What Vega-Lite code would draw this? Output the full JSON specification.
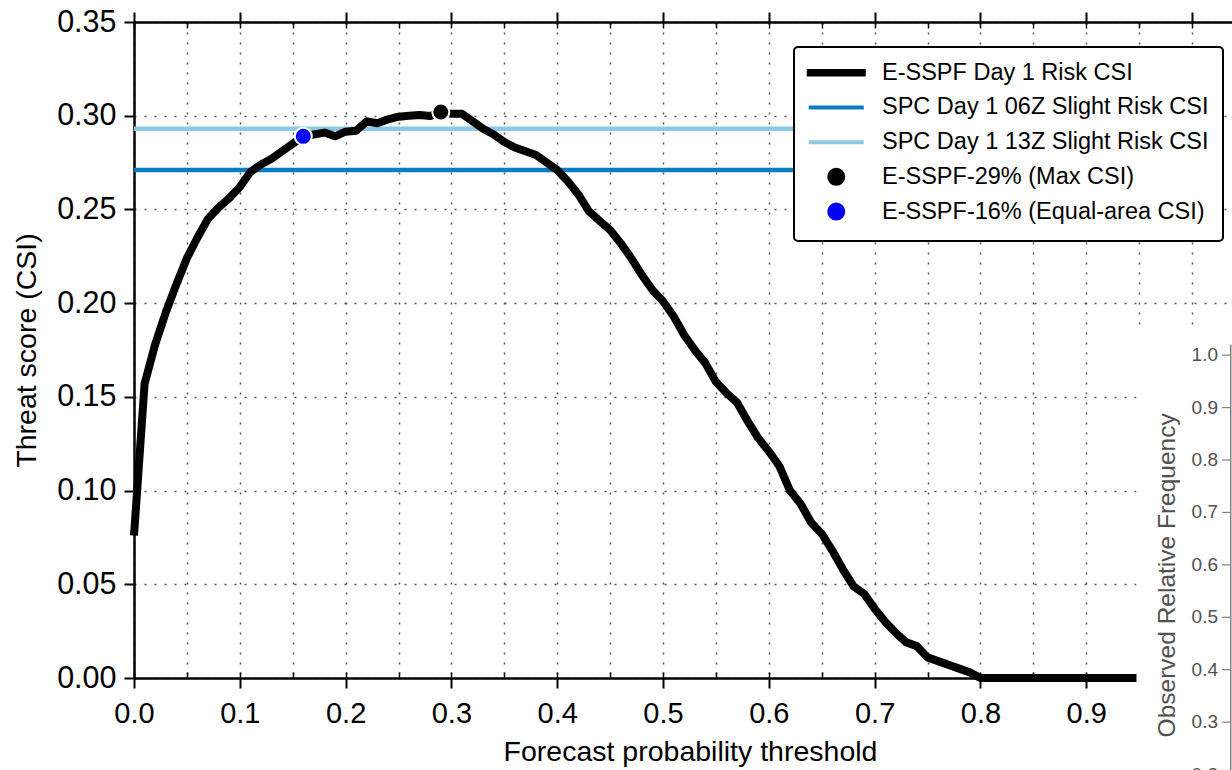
{
  "$schema": "https://vega.github.io/schema/vega-lite/v6.json",
  "width": 1098,
  "height": 656,
  "autosize": {"type": "none"},
  "padding": {"left": 134, "top": 22, "right": 0, "bottom": 92},
  "background": "white",
  "config": {"view": {"stroke": null}, "font": "Liberation Sans", "axis": {"zindex": 0}},
  "datasets": {
    "curve": [
      {"p": 0.00, "csi": 0.076, "series": "E-SSPF Day 1 Risk CSI"},
      {"p": 0.01, "csi": 0.157, "series": "E-SSPF Day 1 Risk CSI"},
      {"p": 0.02, "csi": 0.178, "series": "E-SSPF Day 1 Risk CSI"},
      {"p": 0.03, "csi": 0.195, "series": "E-SSPF Day 1 Risk CSI"},
      {"p": 0.04, "csi": 0.210, "series": "E-SSPF Day 1 Risk CSI"},
      {"p": 0.05, "csi": 0.224, "series": "E-SSPF Day 1 Risk CSI"},
      {"p": 0.06, "csi": 0.235, "series": "E-SSPF Day 1 Risk CSI"},
      {"p": 0.07, "csi": 0.245, "series": "E-SSPF Day 1 Risk CSI"},
      {"p": 0.08, "csi": 0.251, "series": "E-SSPF Day 1 Risk CSI"},
      {"p": 0.09, "csi": 0.256, "series": "E-SSPF Day 1 Risk CSI"},
      {"p": 0.10, "csi": 0.262, "series": "E-SSPF Day 1 Risk CSI"},
      {"p": 0.11, "csi": 0.270, "series": "E-SSPF Day 1 Risk CSI"},
      {"p": 0.12, "csi": 0.274, "series": "E-SSPF Day 1 Risk CSI"},
      {"p": 0.13, "csi": 0.277, "series": "E-SSPF Day 1 Risk CSI"},
      {"p": 0.14, "csi": 0.281, "series": "E-SSPF Day 1 Risk CSI"},
      {"p": 0.15, "csi": 0.285, "series": "E-SSPF Day 1 Risk CSI"},
      {"p": 0.16, "csi": 0.289, "series": "E-SSPF Day 1 Risk CSI"},
      {"p": 0.17, "csi": 0.290, "series": "E-SSPF Day 1 Risk CSI"},
      {"p": 0.18, "csi": 0.291, "series": "E-SSPF Day 1 Risk CSI"},
      {"p": 0.19, "csi": 0.289, "series": "E-SSPF Day 1 Risk CSI"},
      {"p": 0.20, "csi": 0.2915, "series": "E-SSPF Day 1 Risk CSI"},
      {"p": 0.21, "csi": 0.292, "series": "E-SSPF Day 1 Risk CSI"},
      {"p": 0.22, "csi": 0.297, "series": "E-SSPF Day 1 Risk CSI"},
      {"p": 0.23, "csi": 0.296, "series": "E-SSPF Day 1 Risk CSI"},
      {"p": 0.24, "csi": 0.298, "series": "E-SSPF Day 1 Risk CSI"},
      {"p": 0.25, "csi": 0.2995, "series": "E-SSPF Day 1 Risk CSI"},
      {"p": 0.26, "csi": 0.300, "series": "E-SSPF Day 1 Risk CSI"},
      {"p": 0.27, "csi": 0.3004, "series": "E-SSPF Day 1 Risk CSI"},
      {"p": 0.28, "csi": 0.2998, "series": "E-SSPF Day 1 Risk CSI"},
      {"p": 0.29, "csi": 0.302, "series": "E-SSPF Day 1 Risk CSI"},
      {"p": 0.30, "csi": 0.301, "series": "E-SSPF Day 1 Risk CSI"},
      {"p": 0.31, "csi": 0.301, "series": "E-SSPF Day 1 Risk CSI"},
      {"p": 0.32, "csi": 0.297, "series": "E-SSPF Day 1 Risk CSI"},
      {"p": 0.33, "csi": 0.293, "series": "E-SSPF Day 1 Risk CSI"},
      {"p": 0.34, "csi": 0.290, "series": "E-SSPF Day 1 Risk CSI"},
      {"p": 0.35, "csi": 0.286, "series": "E-SSPF Day 1 Risk CSI"},
      {"p": 0.36, "csi": 0.283, "series": "E-SSPF Day 1 Risk CSI"},
      {"p": 0.37, "csi": 0.281, "series": "E-SSPF Day 1 Risk CSI"},
      {"p": 0.38, "csi": 0.279, "series": "E-SSPF Day 1 Risk CSI"},
      {"p": 0.39, "csi": 0.275, "series": "E-SSPF Day 1 Risk CSI"},
      {"p": 0.40, "csi": 0.271, "series": "E-SSPF Day 1 Risk CSI"},
      {"p": 0.41, "csi": 0.265, "series": "E-SSPF Day 1 Risk CSI"},
      {"p": 0.42, "csi": 0.258, "series": "E-SSPF Day 1 Risk CSI"},
      {"p": 0.43, "csi": 0.249, "series": "E-SSPF Day 1 Risk CSI"},
      {"p": 0.44, "csi": 0.244, "series": "E-SSPF Day 1 Risk CSI"},
      {"p": 0.45, "csi": 0.239, "series": "E-SSPF Day 1 Risk CSI"},
      {"p": 0.46, "csi": 0.232, "series": "E-SSPF Day 1 Risk CSI"},
      {"p": 0.47, "csi": 0.224, "series": "E-SSPF Day 1 Risk CSI"},
      {"p": 0.48, "csi": 0.215, "series": "E-SSPF Day 1 Risk CSI"},
      {"p": 0.49, "csi": 0.207, "series": "E-SSPF Day 1 Risk CSI"},
      {"p": 0.50, "csi": 0.201, "series": "E-SSPF Day 1 Risk CSI"},
      {"p": 0.51, "csi": 0.193, "series": "E-SSPF Day 1 Risk CSI"},
      {"p": 0.52, "csi": 0.183, "series": "E-SSPF Day 1 Risk CSI"},
      {"p": 0.53, "csi": 0.175, "series": "E-SSPF Day 1 Risk CSI"},
      {"p": 0.54, "csi": 0.168, "series": "E-SSPF Day 1 Risk CSI"},
      {"p": 0.55, "csi": 0.158, "series": "E-SSPF Day 1 Risk CSI"},
      {"p": 0.56, "csi": 0.152, "series": "E-SSPF Day 1 Risk CSI"},
      {"p": 0.57, "csi": 0.147, "series": "E-SSPF Day 1 Risk CSI"},
      {"p": 0.58, "csi": 0.137, "series": "E-SSPF Day 1 Risk CSI"},
      {"p": 0.59, "csi": 0.128, "series": "E-SSPF Day 1 Risk CSI"},
      {"p": 0.60, "csi": 0.121, "series": "E-SSPF Day 1 Risk CSI"},
      {"p": 0.61, "csi": 0.113, "series": "E-SSPF Day 1 Risk CSI"},
      {"p": 0.62, "csi": 0.100, "series": "E-SSPF Day 1 Risk CSI"},
      {"p": 0.63, "csi": 0.093, "series": "E-SSPF Day 1 Risk CSI"},
      {"p": 0.64, "csi": 0.083, "series": "E-SSPF Day 1 Risk CSI"},
      {"p": 0.65, "csi": 0.077, "series": "E-SSPF Day 1 Risk CSI"},
      {"p": 0.66, "csi": 0.068, "series": "E-SSPF Day 1 Risk CSI"},
      {"p": 0.67, "csi": 0.058, "series": "E-SSPF Day 1 Risk CSI"},
      {"p": 0.68, "csi": 0.049, "series": "E-SSPF Day 1 Risk CSI"},
      {"p": 0.69, "csi": 0.045, "series": "E-SSPF Day 1 Risk CSI"},
      {"p": 0.70, "csi": 0.037, "series": "E-SSPF Day 1 Risk CSI"},
      {"p": 0.71, "csi": 0.030, "series": "E-SSPF Day 1 Risk CSI"},
      {"p": 0.72, "csi": 0.024, "series": "E-SSPF Day 1 Risk CSI"},
      {"p": 0.73, "csi": 0.019, "series": "E-SSPF Day 1 Risk CSI"},
      {"p": 0.74, "csi": 0.017, "series": "E-SSPF Day 1 Risk CSI"},
      {"p": 0.75, "csi": 0.011, "series": "E-SSPF Day 1 Risk CSI"},
      {"p": 0.76, "csi": 0.009, "series": "E-SSPF Day 1 Risk CSI"},
      {"p": 0.77, "csi": 0.007, "series": "E-SSPF Day 1 Risk CSI"},
      {"p": 0.78, "csi": 0.005, "series": "E-SSPF Day 1 Risk CSI"},
      {"p": 0.79, "csi": 0.003, "series": "E-SSPF Day 1 Risk CSI"},
      {"p": 0.80, "csi": 0.0, "series": "E-SSPF Day 1 Risk CSI"},
      {"p": 0.81, "csi": 0.0, "series": "E-SSPF Day 1 Risk CSI"},
      {"p": 0.82, "csi": 0.0, "series": "E-SSPF Day 1 Risk CSI"},
      {"p": 0.83, "csi": 0.0, "series": "E-SSPF Day 1 Risk CSI"},
      {"p": 0.84, "csi": 0.0, "series": "E-SSPF Day 1 Risk CSI"},
      {"p": 0.85, "csi": 0.0, "series": "E-SSPF Day 1 Risk CSI"},
      {"p": 0.86, "csi": 0.0, "series": "E-SSPF Day 1 Risk CSI"},
      {"p": 0.87, "csi": 0.0, "series": "E-SSPF Day 1 Risk CSI"},
      {"p": 0.88, "csi": 0.0, "series": "E-SSPF Day 1 Risk CSI"},
      {"p": 0.89, "csi": 0.0, "series": "E-SSPF Day 1 Risk CSI"},
      {"p": 0.90, "csi": 0.0, "series": "E-SSPF Day 1 Risk CSI"},
      {"p": 0.91, "csi": 0.0, "series": "E-SSPF Day 1 Risk CSI"},
      {"p": 0.92, "csi": 0.0, "series": "E-SSPF Day 1 Risk CSI"},
      {"p": 0.93, "csi": 0.0, "series": "E-SSPF Day 1 Risk CSI"},
      {"p": 0.94, "csi": 0.0, "series": "E-SSPF Day 1 Risk CSI"},
      {"p": 0.95, "csi": 0.0, "series": "E-SSPF Day 1 Risk CSI"},
      {"p": 0.96, "csi": 0.0, "series": "E-SSPF Day 1 Risk CSI"},
      {"p": 0.97, "csi": 0.0, "series": "E-SSPF Day 1 Risk CSI"},
      {"p": 0.98, "csi": 0.0, "series": "E-SSPF Day 1 Risk CSI"},
      {"p": 0.99, "csi": 0.0, "series": "E-SSPF Day 1 Risk CSI"}
    ],
    "spc": [
      {"series": "SPC Day 1 06Z Slight Risk CSI", "csi": 0.271},
      {"series": "SPC Day 1 13Z Slight Risk CSI", "csi": 0.293}
    ],
    "marked": [
      {"p": 0.29, "csi": 0.302, "series": "E-SSPF-29% (Max CSI)"},
      {"p": 0.16, "csi": 0.289, "series": "E-SSPF-16% (Equal-area CSI)"}
    ],
    "inset": [
      {"orf": 1.0, "label": "1.0"},
      {"orf": 0.9, "label": "0.9"},
      {"orf": 0.8, "label": "0.8"},
      {"orf": 0.7, "label": "0.7"},
      {"orf": 0.6, "label": "0.6"},
      {"orf": 0.5, "label": "0.5"},
      {"orf": 0.4, "label": "0.4"},
      {"orf": 0.3, "label": "0.3"},
      {"orf": 0.2, "label": "0.2"}
    ],
    "insetTitle": [
      {"axis": "Observed Relative Frequency"}
    ]
  },
  "layer": [
    {
      "data": {"name": "spc"},
      "mark": {"type": "rule", "strokeWidth": 4.5},
      "encoding": {
        "x": {"datum": 0, "type": "quantitative",
          "scale": {"domain": [0, 1.0378], "nice": false, "zero": false},
          "axis": {"orient": "bottom", "values": [0,0.05,0.1,0.15,0.2,0.25,0.3,0.35,0.4,0.45,0.5,0.55,0.6,0.65,0.7,0.75,0.8,0.85,0.9,0.95,1.0],
            "grid": true, "gridDash": [2, 8], "gridColor": "#555", "gridWidth": 1.5,
            "ticks": true, "tickSize": -6, "tickWidth": 1.5, "tickColor": "black",
            "labels": false, "domain": false, "title": null, "zindex": 0}},
        "x2": {"datum": 1.0},
        "y": {"field": "csi", "type": "quantitative", "scale": {"domain": [0, 0.35], "nice": false, "zero": false}, "axis": null},
        "color": {"field": "series", "type": "nominal"}
      }
    },
    {
      "data": {"name": "curve"},
      "mark": {"type": "line", "strokeWidth": 8, "strokeJoin": "round", "strokeCap": "butt"},
      "encoding": {
        "x": {"field": "p", "type": "quantitative",
          "scale": {"domain": [0, 1.0378], "nice": false, "zero": false},
          "axis": {"orient": "bottom", "values": [0,0.1,0.2,0.3,0.4,0.5,0.6,0.7,0.8,0.9], "format": ".1f",
            "grid": false, "tickSize": 10, "tickWidth": 2, "tickColor": "black",
            "domain": true, "domainColor": "black", "domainWidth": 2.5,
            "labelFontSize": 29, "labelFont": "Liberation Sans", "labelColor": "black", "labelPadding": 11,
            "labelFlush": false, "labelOverlap": false,
            "title": "Forecast probability threshold", "titleFontSize": 28.5, "titleFont": "Liberation Sans",
            "titleFontWeight": "normal", "titleColor": "black", "titleX": 556, "titleY": 82, "titleBaseline": "alphabetic", "zindex": 0}},
        "y": {"field": "csi", "type": "quantitative",
          "scale": {"domain": [0, 0.35], "nice": false, "zero": false},
          "axis": {"orient": "left", "values": [0,0.05,0.1,0.15,0.2,0.25,0.3,0.35], "format": ".2f",
            "grid": true, "gridDash": [2, 8], "gridColor": "#555", "gridWidth": 1.5,
            "tickSize": 10, "tickWidth": 2, "tickColor": "black",
            "domain": true, "domainColor": "black", "domainWidth": 2.5,
            "labelFontSize": 30.5, "labelFont": "Liberation Sans", "labelColor": "black", "labelPadding": 8,
            "labelFlush": false, "labelOverlap": false,
            "title": "Threat score (CSI)", "titleFontSize": 28.5, "titleFont": "Liberation Sans",
            "titleFontWeight": "normal", "titleColor": "black", "titleAngle": 270, "titleX": -99, "titleY": 328,
            "titleBaseline": "alphabetic", "titleAlign": "center", "zindex": 0}},
        "color": {"field": "series", "type": "nominal",
          "scale": {
            "domain": ["E-SSPF Day 1 Risk CSI", "SPC Day 1 06Z Slight Risk CSI", "SPC Day 1 13Z Slight Risk CSI", "E-SSPF-29% (Max CSI)", "E-SSPF-16% (Equal-area CSI)"],
            "range": ["#000000", "#0a7dbf", "#8ccae3", "#000000", "#0000ff"]
          },
          "legend": {
            "title": null, "orient": "none", "legendX": 660, "legendY": 25, "zindex": 1,
            "padding": 14, "rowPadding": 3.7, "gridAlign": "all", "symbolSize": 196, "symbolStrokeWidth": 4,
            "symbolOffset": 16.5, "labelOffset": 34, "labelFontSize": 23.5, "labelFont": "Liberation Sans",
            "labelColor": "black", "labelLimit": 600, "fillColor": "white", "strokeColor": "black", "cornerRadius": 4,
            "encode": {
              "legend": {"update": {"strokeWidth": {"value": 2}}},
              "symbols": {"update": {
                "shape": {"signal": "datum.value == 'E-SSPF Day 1 Risk CSI' ? 'M-3.93,-0.25H3.93V0.25H-3.93Z' : ((datum.value == 'E-SSPF-29% (Max CSI)' || datum.value == 'E-SSPF-16% (Equal-area CSI)') ? 'circle' : 'M-3.93,0H3.93')"},
                "stroke": {"signal": "scale('color', datum.value)"},
                "fill": {"signal": "scale('color', datum.value)"},
                "opacity": {"value": 1},
                "strokeOpacity": {"value": 1},
                "fillOpacity": {"value": 1}
              }}
            }
          }
        }
      }
    },
    {
      "data": {"name": "marked"},
      "mark": {"type": "point", "filled": true, "size": 289, "stroke": "white", "strokeWidth": 2, "opacity": 1},
      "encoding": {
        "x": {"field": "p", "type": "quantitative",
          "scale": {"domain": [0, 1.0378], "nice": false, "zero": false},
          "axis": {"orient": "top", "values": [0,0.05,0.1,0.15,0.2,0.25,0.3,0.35,0.4,0.45,0.5,0.55,0.6,0.65,0.7,0.75,0.8,0.85,0.9,0.95,1.0],
            "grid": false, "tickSize": -6, "tickWidth": 1.5, "tickColor": "black",
            "domain": true, "domainColor": "black", "domainWidth": 2.5,
            "labels": false, "title": null, "zindex": 0}},
        "y": {"field": "csi", "type": "quantitative", "scale": {"domain": [0, 0.35], "nice": false, "zero": false}, "axis": null},
        "color": {"field": "series", "type": "nominal"}
      }
    },
    {
      "data": {"values": [{"panel": "reliability diagram"}]},
      "mark": {"type": "rect", "fill": "white"},
      "encoding": {
        "x": {"datum": 0.9475, "type": "quantitative",
          "scale": {"domain": [0, 1.0378], "nice": false, "zero": false},
          "axis": {"orient": "top", "values": [0,0.1,0.2,0.3,0.4,0.5,0.6,0.7,0.8,0.9,1.0],
            "grid": false, "tickSize": 10, "tickWidth": 2, "tickColor": "black",
            "domain": false, "labels": false, "title": null, "zindex": 0}},
        "x2": {"datum": 1.0378},
        "y": {"datum": 0.1867, "type": "quantitative", "scale": {"domain": [0, 0.35], "nice": false, "zero": false}, "axis": null},
        "y2": {"datum": -0.1}
      }
    },
    {
      "data": {"name": "insetTitle"},
      "mark": {"type": "rule", "color": "#808080", "strokeWidth": 1.5},
      "encoding": {
        "x": {"datum": 1.0366, "type": "quantitative", "scale": {"domain": [0, 1.0378], "nice": false, "zero": false}, "axis": null},
        "y": {"datum": 1.02, "type": "quantitative", "scale": {"domain": [0.3842, 1.6355], "nice": false, "zero": false}, "axis": null},
        "y2": {"datum": 0.0}
      }
    },
    {
      "data": {"name": "inset"},
      "mark": {"type": "rule", "color": "#808080", "strokeWidth": 1.2},
      "encoding": {
        "x": {"datum": 1.0284, "type": "quantitative", "scale": {"domain": [0, 1.0378], "nice": false, "zero": false}, "axis": null},
        "x2": {"datum": 1.0366},
        "y": {"field": "orf", "type": "quantitative", "scale": {"domain": [0.3842, 1.6355], "nice": false, "zero": false}, "axis": null}
      }
    },
    {
      "data": {"name": "inset"},
      "mark": {"type": "text", "align": "right", "baseline": "middle", "fontSize": 19, "font": "Liberation Sans", "color": "#505050"},
      "encoding": {
        "x": {"datum": 1.0246, "type": "quantitative", "scale": {"domain": [0, 1.0378], "nice": false, "zero": false}, "axis": null},
        "y": {"field": "orf", "type": "quantitative", "scale": {"domain": [0.3842, 1.6355], "nice": false, "zero": false}, "axis": null},
        "text": {"field": "label"}
      }
    },
    {
      "data": {"name": "insetTitle"},
      "mark": {"type": "text", "align": "center", "baseline": "middle", "angle": 270, "fontSize": 24.5, "font": "Liberation Sans", "color": "#505050"},
      "encoding": {
        "x": {"datum": 0.9773, "type": "quantitative", "scale": {"domain": [0, 1.0378], "nice": false, "zero": false}, "axis": null},
        "y": {"datum": 0.58, "type": "quantitative", "scale": {"domain": [0.3842, 1.6355], "nice": false, "zero": false}, "axis": null},
        "text": {"field": "axis"}
      }
    }
  ],
  "resolve": {"scale": {"y": "independent"}, "axis": {"x": "independent", "y": "independent"}}
}
